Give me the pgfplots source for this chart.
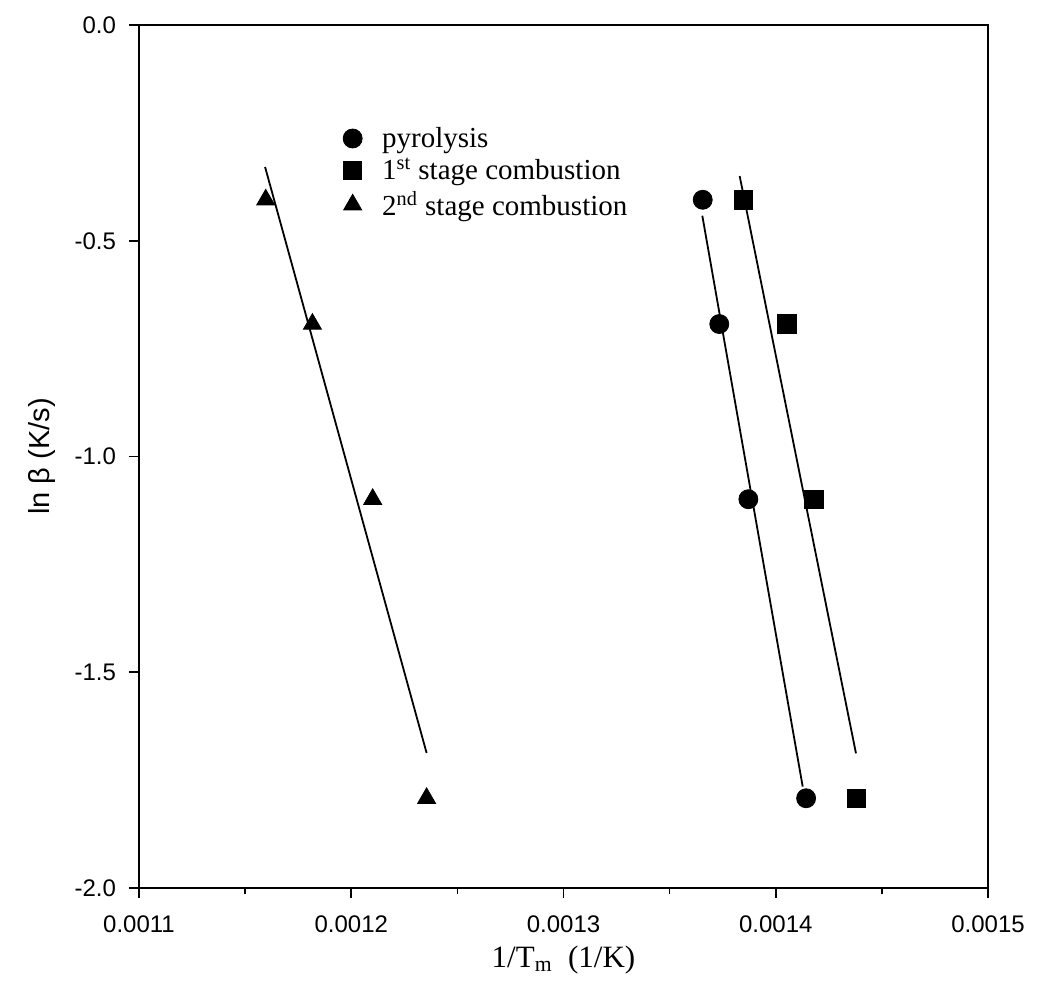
\documentclass[border=0pt]{standalone}
\usepackage{pgfplots}
\pgfplotsset{compat=1.18}
\usepackage{fontspec}
\setmainfont{Liberation Serif}
\setsansfont{Liberation Sans}

\begin{document}
\begin{tikzpicture}
\begin{axis}[
  scale only axis, width=424.5pt, height=431.5pt,
  xmin=0.0011, xmax=0.0015, ymin=-2, ymax=0,
  scaled x ticks=false,
  xtick={0.0011,0.0012,0.0013,0.0014,0.0015},
  xticklabels={0.0011,0.0012,0.0013,0.0014,0.0015},
  ytick={-2,-1.5,-1,-0.5,0},
  yticklabels={-2.0,-1.5,-1.0,-0.5,0.0},
  minor x tick num=1,
  tick align=outside, tick pos=left,
  major tick length=5pt, minor tick length=3pt,
  tick style={black, line width=0.8pt},
  axis line style={line width=1pt},
  tick label style={font=\sffamily\fontsize{12}{14}\selectfont},
  xticklabel style={yshift=-5.5pt},
  yticklabel style={xshift=-3pt},
  xlabel={1/T\textsubscript{m}\ \ (1/K)},
  ylabel={ln β (K/s)},
  xlabel style={font=\fontsize{15.5}{18}\selectfont, at={(axis description cs:0.5,-0.083)}, anchor=center},
  ylabel style={font=\sffamily\fontsize{14.5}{17}\selectfont, at={(axis description cs:-0.114,0.5)}, anchor=center},
  legend cell align=left,
  legend style={at={(axis description cs:0.24,0.887)}, anchor=north west,
    draw=none, fill=none, inner sep=0pt, row sep=0pt,
    font=\fontsize{14.5}{16}\selectfont,
    /tikz/every odd column/.append style={column sep=8pt}},
]
% data points
\addplot[only marks, mark=*, mark size=4.75pt, black] coordinates {
  (0.0013656,-0.405) (0.0013734,-0.693) (0.0013871,-1.099) (0.0014143,-1.792)};
\addlegendentry{pyrolysis}
\addplot[only marks, mark=square*, mark size=4.6pt, black] coordinates {
  (0.0013847,-0.405) (0.0014053,-0.693) (0.0014180,-1.099) (0.0014381,-1.792)};
\addlegendentry{1\textsuperscript{st} stage combustion}
\addplot[only marks, mark=triangle*, mark size=5.2pt, black] coordinates {
  (0.0011597,-0.405) (0.0011817,-0.693) (0.0012101,-1.099) (0.0012355,-1.792)};
\addlegendentry{2\textsuperscript{nd} stage combustion}
% linear fits
\addplot[black, line width=0.9pt, forget plot] coordinates {(0.0013654,-0.442) (0.0014127,-1.765)};
\addplot[black, line width=0.9pt, forget plot] coordinates {(0.0013830,-0.350) (0.0014378,-1.688)};
\addplot[black, line width=0.9pt, forget plot] coordinates {(0.0011594,-0.329) (0.0012355,-1.687)};
\coordinate (sw) at (rel axis cs:0,0);
\end{axis}
\path (sw) ++(-69.5pt,-57.5pt) rectangle ++(522pt,501.5pt);
\end{tikzpicture}
\end{document}
